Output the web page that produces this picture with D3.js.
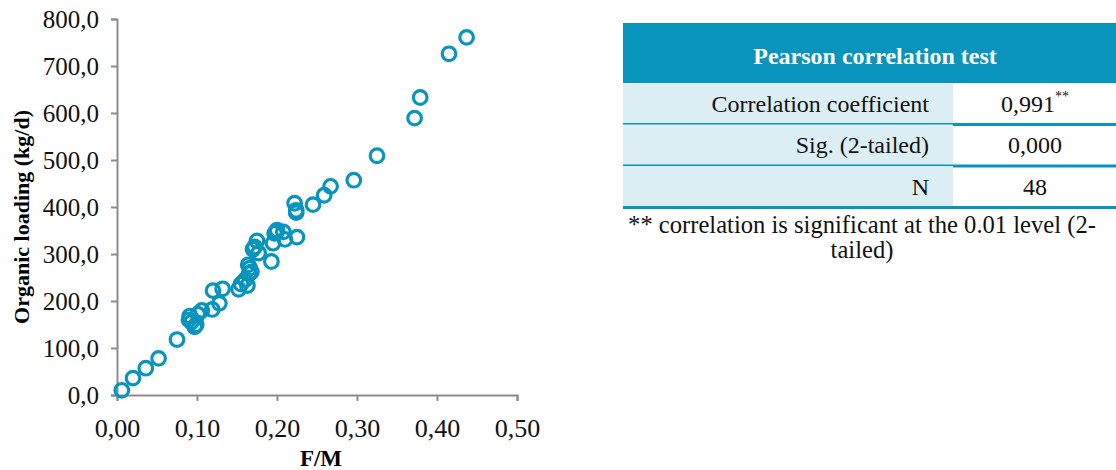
<!DOCTYPE html>
<html>
<head>
<meta charset="utf-8">
<script src="https://cdn.jsdelivr.net/npm/d3@7"></script>
<style>
  html, body { margin: 0; padding: 0; background: #fff; }
  text { font-family: "Liberation Serif", "Times New Roman", serif; }
</style>
</head>
<body>
<div id="chart"></div>
<script>
// F/M ratio vs organic loading (kg/d)
const fmValues = [0.006, 0.020, 0.036, 0.052, 0.075, 0.091, 0.093, 0.097, 0.099, 0.090,
    0.101, 0.106, 0.119, 0.120, 0.128, 0.132, 0.152, 0.155, 0.160, 0.163,
    0.165, 0.164, 0.166, 0.170, 0.172, 0.175, 0.177, 0.168, 0.193, 0.195,
    0.197, 0.200, 0.199, 0.208, 0.210, 0.225, 0.222, 0.224, 0.224, 0.245,
    0.259, 0.267, 0.296, 0.325, 0.372, 0.379, 0.415, 0.437];
const loadValues = [10, 36, 57, 78, 118, 168, 155, 145, 150, 160,
    172, 180, 182, 222, 195, 226, 225, 236, 245, 233,
    258, 277, 270, 310, 315, 328, 302, 262, 284, 323,
    344, 351, 346, 347, 331, 336, 408, 393, 388, 405,
    425, 444, 457, 509, 589, 633, 726, 761];

const xTicks = [0, 0.1, 0.2, 0.3, 0.4, 0.5];
const yTicks = [0, 100, 200, 300, 400, 500, 600, 700, 800];

const tableTitle = "Pearson correlation test";
const rowLabels = ["Correlation coefficient", "Sig. (2-tailed)", "N"];
const rowValues = ["0,991", "0,000", "48"];
const rowMarks = ["**", "", ""];
const footnote = ["** correlation is significant at the 0.01 level (2-", "tailed)"];

const blue = "#0894bd";
const light = "#dbeef4";
const axisGrey = "#8c8c8c";

const W = 1116, H = 470;
const margin = {top: 19, left: 117, right: W - 517, bottom: H - 395};
const width = W - margin.left - margin.right;
const height = H - margin.top - margin.bottom;

const locale = d3.formatLocale({decimal: ",", thousands: ".", grouping: [3], currency: ["", ""]});

const svg = d3.select("#chart").append("svg")
    .attr("width", W)
    .attr("height", H);

const g = svg.append("g")
    .attr("transform", `translate(${margin.left},${margin.top})`);

const x = d3.scaleLinear().domain([0, 0.5]).range([0, width]);
const y = d3.scaleLinear().domain([0, 800]).range([height, 0]);

const xAxisG = g.append("g")
    .attr("transform", `translate(0,${height})`)
    .call(d3.axisBottom(x).tickValues(xTicks).tickFormat(locale.format(".2f")).tickSize(6));

const yAxisG = g.append("g")
    .call(d3.axisLeft(y).tickValues(yTicks).tickFormat(locale.format(".1f")).tickSize(6).tickPadding(12));

[xAxisG, yAxisG].forEach(a => {
    a.select(".domain").attr("stroke", axisGrey).attr("stroke-width", 2);
    a.selectAll(".tick line").attr("stroke", axisGrey).attr("stroke-width", 2);
    a.selectAll(".tick text")
        .attr("fill", "#111")
        .style("font-size", "25px")
        .style("font-family", "'Liberation Serif', serif");
});
xAxisG.selectAll(".tick text").attr("y", 42).attr("dy", 0).style("font-size", "26px");
yAxisG.selectAll(".tick text").attr("dy", "0.34em");

// axis titles
svg.append("text")
    .attr("x", margin.left + width / 2 + 4)
    .attr("y", 466)
    .attr("text-anchor", "middle")
    .style("font-size", "23px")
    .style("font-weight", "bold")
    .text("F/M");

svg.append("text")
    .attr("transform", `translate(29,${margin.top + height / 2 + 10}) rotate(-90)`)
    .attr("text-anchor", "middle")
    .style("font-size", "22px")
    .style("font-weight", "bold")
    .text("Organic loading (kg/d)");

// points
const points = fmValues.map((v, i) => ({fm: v, load: loadValues[i]}));
g.selectAll(".pt")
    .data(points)
    .enter().append("circle")
    .attr("class", "pt")
    .attr("cx", d => x(d.fm))
    .attr("cy", d => y(d.load))
    .attr("r", 6.8)
    .attr("fill", "none")
    .attr("stroke", blue)
    .attr("stroke-width", 3.2);

// correlation table
const tX = 623, tRight = W, split = 953;
const headTop = 23, headBottom = 83;
const rowH = 41.5;

const table = svg.append("g");
table.append("rect")
    .attr("x", tX).attr("y", headTop)
    .attr("width", tRight - tX).attr("height", headBottom - headTop)
    .attr("fill", blue);
table.append("text")
    .attr("x", 875)
    .attr("y", 64)
    .attr("text-anchor", "middle")
    .attr("fill", "#fff")
    .style("font-size", "24px")
    .style("font-weight", "bold")
    .text(tableTitle);

rowLabels.forEach((lab, i) => {
    const top = headBottom + i * rowH;
    table.append("rect")
        .attr("x", tX).attr("y", top)
        .attr("width", split - tX).attr("height", rowH)
        .attr("fill", light);
    table.append("line")
        .attr("x1", tX).attr("x2", tRight)
        .attr("y1", top + rowH).attr("y2", top + rowH)
        .attr("stroke", blue)
        .attr("stroke-width", 3);
    table.append("text")
        .attr("x", 929)
        .attr("y", top + rowH / 2 + 8)
        .attr("text-anchor", "end")
        .attr("fill", "#111")
        .style("font-size", "24px")
        .text(lab);
    const vt = table.append("text")
        .attr("x", 1035)
        .attr("y", top + rowH / 2 + 8)
        .attr("text-anchor", "middle")
        .attr("fill", "#111")
        .style("font-size", "24px")
        .text(rowValues[i]);
    if (rowMarks[i]) {
        vt.append("tspan")
            .attr("dy", -11)
            .style("font-size", "14px")
            .text(rowMarks[i]);
    }
});

table.selectAll(".foot")
    .data(footnote)
    .enter().append("text")
    .attr("class", "foot")
    .attr("x", 862)
    .attr("y", (d, i) => 233 + i * 25)
    .attr("text-anchor", "middle")
    .attr("fill", "#111")
    .style("font-size", "24.6px")
    .text(d => d);
</script>
</body>
</html>
